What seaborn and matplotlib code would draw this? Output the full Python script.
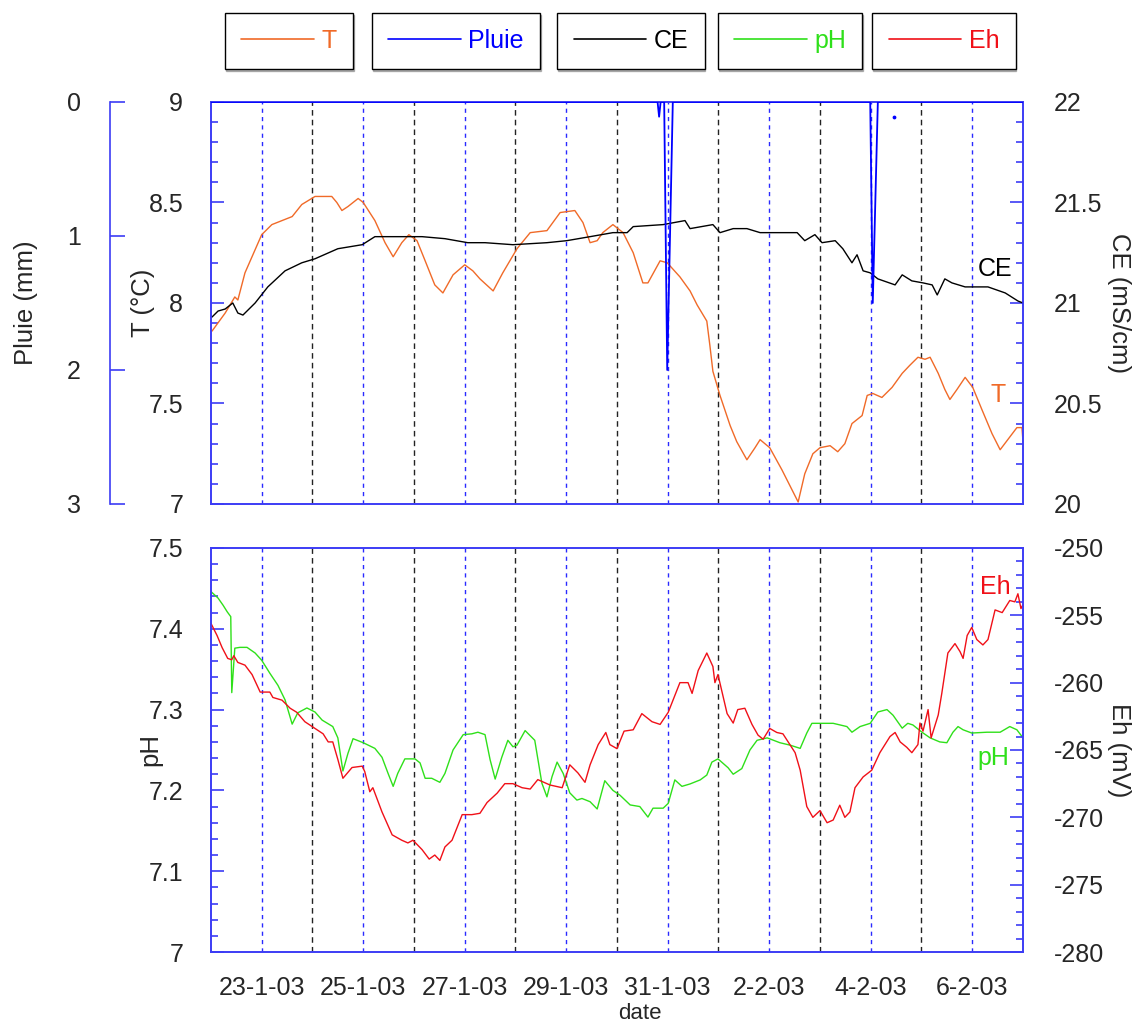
import numpy as np
import pandas as pd
import seaborn as sns
import matplotlib.pyplot as plt
from matplotlib.lines import Line2D
from matplotlib.ticker import MultipleLocator

sns.set_theme(style='white')
plt.rcParams['font.family'] = ['Liberation Sans', 'DejaVu Sans']

# temps en jours depuis le 22-1-03 0h
start = pd.Timestamp('2003-01-22')

t_T = [0.02, 0.28, 0.47, 0.53, 0.67, 1.00, 1.20, 1.40, 1.60, 1.79, 2.05, 2.38, 2.48, 2.58, 2.70, 2.90, 3.00,
       3.23, 3.43, 3.59, 3.76, 3.90, 4.06, 4.22, 4.41, 4.57, 4.77, 5.00, 5.16, 5.30, 5.56, 5.75, 6.03, 6.29,
       6.62, 6.88, 7.17, 7.33, 7.47, 7.61, 7.72, 7.92, 8.12, 8.32, 8.51, 8.61, 8.85, 8.99, 9.24, 9.44, 9.58,
       9.77, 9.83, 9.89, 10.03, 10.23, 10.36, 10.56, 10.72, 10.82, 11.01, 11.25, 11.57, 11.70, 11.86, 12.00,
       12.20, 12.35, 12.49, 12.63, 12.83, 12.93, 13.04, 13.22, 13.42, 13.62, 13.77, 13.93, 14.07, 14.17,
       14.33, 14.46, 14.56, 14.70, 14.86, 15.01, 15.19, 15.39, 15.55, 15.70, 15.88, 15.98, 16.00]
T = [7.86, 7.95, 8.03, 8.015, 8.15, 8.34, 8.39, 8.41, 8.43, 8.49, 8.53, 8.53, 8.50, 8.46, 8.48, 8.52, 8.50,
     8.41, 8.30, 8.23, 8.30, 8.34, 8.31, 8.21, 8.09, 8.05, 8.14, 8.19, 8.16, 8.12, 8.06, 8.15, 8.27, 8.35,
     8.36, 8.45, 8.46, 8.40, 8.30, 8.31, 8.35, 8.39, 8.35, 8.25, 8.10, 8.10, 8.21, 8.20, 8.13, 8.06, 7.99,
     7.91, 7.79, 7.66, 7.54, 7.39, 7.31, 7.22, 7.28, 7.32, 7.28, 7.17, 7.01, 7.15, 7.25, 7.28,
     7.29, 7.26, 7.30, 7.40, 7.44, 7.54, 7.55, 7.53, 7.58, 7.65, 7.69, 7.73, 7.72, 7.73,
     7.65, 7.57, 7.52, 7.57, 7.63, 7.58, 7.47, 7.35, 7.27, 7.32, 7.38, 7.38, 7.31]

t_CE = [0.02, 0.14, 0.28, 0.43, 0.53, 0.63, 0.87, 1.12, 1.46, 1.79, 2.05, 2.50, 2.98, 3.23, 3.68, 4.16, 4.61,
        5.06, 5.40, 5.95, 6.62, 7.01, 7.47, 7.92, 8.20, 8.32, 8.91, 9.34, 9.44, 9.89, 10.03, 10.29, 10.56,
        10.82, 11.05, 11.55, 11.70, 11.90, 12.04, 12.30, 12.45, 12.63, 12.73, 12.85, 12.99, 13.14, 13.48,
        13.62, 13.81, 14.03, 14.21, 14.31, 14.46, 14.60, 14.86, 15.31, 15.65, 15.90, 16.00]
CE = [20.93, 20.96, 20.97, 21.00, 20.95, 20.94, 21.00, 21.08, 21.16, 21.20, 21.22, 21.27, 21.29, 21.33, 21.33,
      21.33, 21.32, 21.30, 21.30, 21.29, 21.30, 21.31, 21.33, 21.35, 21.35, 21.38, 21.39, 21.41, 21.37, 21.39,
      21.35, 21.37, 21.37, 21.35, 21.35, 21.35, 21.31, 21.34, 21.30, 21.31, 21.27, 21.20, 21.24, 21.16, 21.15,
      21.12, 21.09, 21.14, 21.11, 21.10, 21.09, 21.04, 21.12, 21.10, 21.08, 21.08, 21.05, 21.01, 21.00]

t_pluie = [0.00, 8.80, 8.83, 8.86, 8.93, 8.99, 9.10, 12.99, 13.04, 13.14, 16.00]
pluie = [0, 0, 0.11, 0, 0, 2.0, 0, 0, 1.5, 0, 0]

t_pH = [0.00, 0.14, 0.24, 0.32, 0.39, 0.41, 0.47, 0.57, 0.71, 0.87, 1.00, 1.16, 1.32, 1.46, 1.60, 1.71, 1.89,
        2.05, 2.19, 2.40, 2.50, 2.60, 2.70, 2.80, 3.00, 3.23, 3.37, 3.49, 3.59, 3.68, 3.82, 4.02, 4.12, 4.22,
        4.35, 4.51, 4.61, 4.77, 4.97, 5.14, 5.26, 5.40, 5.50, 5.60, 5.73, 5.85, 5.95, 6.03, 6.19, 6.38, 6.52,
        6.62, 6.72, 6.82, 6.94, 7.07, 7.21, 7.31, 7.47, 7.61, 7.76, 7.92, 8.06, 8.26, 8.45, 8.61, 8.71, 8.91,
        9.01, 9.14, 9.28, 9.44, 9.64, 9.77, 9.87, 9.99, 10.19, 10.29, 10.46, 10.62, 10.76, 10.96, 11.21,
        11.41, 11.61, 11.74, 11.84, 12.00, 12.26, 12.53, 12.63, 12.79, 12.99, 13.14, 13.32, 13.44, 13.62,
        13.73, 13.83, 14.01, 14.17, 14.36, 14.50, 14.62, 14.72, 14.82, 14.99, 15.29, 15.55, 15.74, 15.88, 16.00]
pH = [7.446, 7.438, 7.429, 7.421, 7.415, 7.321, 7.376, 7.377, 7.377, 7.370, 7.361, 7.345, 7.330, 7.312, 7.282,
      7.296, 7.302, 7.297, 7.287, 7.279, 7.265, 7.224, 7.246, 7.264, 7.259, 7.252, 7.241, 7.221, 7.205, 7.221,
      7.239, 7.239, 7.234, 7.215, 7.215, 7.210, 7.221, 7.250, 7.269, 7.270, 7.272, 7.269, 7.238, 7.214, 7.241,
      7.262, 7.254, 7.256, 7.274, 7.262, 7.209, 7.192, 7.217, 7.235, 7.221, 7.197, 7.188, 7.190, 7.186, 7.177,
      7.212, 7.200, 7.194, 7.182, 7.180, 7.167, 7.178, 7.178, 7.184, 7.213, 7.205, 7.208, 7.213, 7.219, 7.235,
      7.239, 7.228, 7.220, 7.227, 7.250, 7.262, 7.265, 7.259, 7.256, 7.252, 7.271, 7.283, 7.283, 7.283, 7.279,
      7.272, 7.279, 7.283, 7.297, 7.300, 7.293, 7.277, 7.283, 7.281, 7.272, 7.265, 7.260, 7.259, 7.272, 7.279,
      7.275, 7.271, 7.272, 7.272, 7.279, 7.275, 7.265]

t_Eh = [0.00, 0.12, 0.22, 0.33, 0.41, 0.45, 0.53, 0.67, 0.81, 0.97, 1.16, 1.22, 1.40, 1.56, 1.69, 1.85, 2.05,
        2.21, 2.31, 2.40, 2.50, 2.60, 2.78, 2.98, 3.03, 3.13, 3.19, 3.37, 3.57, 3.76, 3.88, 3.98, 4.16, 4.30,
        4.41, 4.51, 4.61, 4.75, 4.95, 5.14, 5.30, 5.44, 5.64, 5.79, 5.95, 6.13, 6.29, 6.44, 6.68, 6.92, 7.07,
        7.23, 7.37, 7.47, 7.63, 7.78, 7.86, 8.00, 8.14, 8.32, 8.49, 8.69, 8.85, 9.01, 9.24, 9.40, 9.48, 9.60,
        9.77, 9.89, 9.93, 9.99, 10.17, 10.29, 10.38, 10.52, 10.66, 10.78, 10.88, 11.01, 11.15, 11.27, 11.51,
        11.61, 11.74, 11.86, 12.00, 12.14, 12.26, 12.39, 12.49, 12.59, 12.69, 12.85, 13.02, 13.18, 13.38,
        13.48, 13.58, 13.71, 13.81, 13.93, 13.97, 14.03, 14.13, 14.19, 14.33, 14.40, 14.52, 14.66, 14.76,
        14.82, 14.90, 14.99, 15.09, 15.21, 15.31, 15.45, 15.59, 15.74, 15.84, 15.90, 15.96, 16.00]
Eh = [-255.6, -256.5, -257.4, -258.2, -258.3, -258.0, -258.5, -258.7, -259.4, -260.7, -260.7, -261.1, -261.3,
      -261.9, -262.2, -262.9, -263.4, -263.8, -264.4, -264.4, -265.7, -267.1, -266.3, -266.2, -266.6, -268.1,
      -267.8, -269.6, -271.3, -271.7, -271.9, -271.7, -272.4, -273.1, -272.8, -273.2, -272.2, -271.7, -269.8,
      -269.8, -269.7, -268.9, -268.2, -267.5, -267.5, -267.8, -267.9, -267.2, -267.6, -267.8, -266.1, -266.7,
      -267.4, -266.1, -264.6, -263.7, -264.6, -264.9, -263.6, -263.5, -262.3, -262.9, -263.1, -262.2, -260.0,
      -260.0, -260.8, -259.1, -257.8, -258.8, -260.0, -259.4, -262.3, -263.0, -262.0, -261.9, -263.1, -263.9,
      -264.2, -263.4, -263.7, -263.8, -265.2, -266.5, -269.2, -270.0, -269.5, -270.4, -270.2, -269.1, -270.0,
      -269.6, -267.8, -267.0, -266.5, -265.2, -264.0, -263.7, -264.4, -264.8, -265.2, -264.6, -263.0, -263.6,
      -262.0, -264.1, -262.4, -260.8, -257.8, -257.1, -257.7, -258.2, -256.5, -255.9, -256.8, -257.2, -256.8,
      -254.6, -254.8, -253.9, -254.0, -253.4, -254.5, -254.2]

c_T = '#f06a28'
c_pluie = '#0000ff'
c_CE = 'black'
c_pH = '#2fe01a'
c_Eh = '#f01018'
c_axe = '#3c3cf5'

fs_tick = 18
fs_lab = 18.5
fs_txt = 18


def dates(days):
    return start + pd.to_timedelta(np.asarray(days), unit='D')


fig = plt.figure(figsize=(11.33, 10.25), dpi=100)
ax_T = fig.add_axes([0.1862, 0.5083, 0.7167, 0.3922])
ax_CE = ax_T.twinx()
ax_R = ax_T.twinx()
ax_pH = fig.add_axes([0.1862, 0.0712, 0.7167, 0.3942])
ax_Eh = ax_pH.twinx()

# lignes verticales journalieres
jours = pd.date_range('2003-01-23', '2003-02-06', freq='D')
for ax in (ax_T, ax_pH):
    for i, d in enumerate(jours):
        if i % 2 == 0:
            ax.axvline(d, color='#2a2aff', lw=1, ls=(0, (3, 3)), zorder=0)
        else:
            ax.axvline(d, color='#222222', lw=1, ls=(0, (4, 3)), zorder=0)

sns.lineplot(x=dates(t_T), y=T, ax=ax_T, color=c_T, lw=1, estimator=None, sort=False)
sns.lineplot(x=dates(t_CE), y=CE, ax=ax_CE, color=c_CE, lw=1, estimator=None, sort=False)
sns.lineplot(x=dates(t_pluie), y=pluie, ax=ax_R, color=c_pluie, lw=1.3, estimator=None, sort=False)
ax_R.scatter(dates([13.46]), [0.11], s=3, color=c_pluie)
sns.lineplot(x=dates(t_pH), y=pH, ax=ax_pH, color=c_pH, lw=1, estimator=None, sort=False)
sns.lineplot(x=dates(t_Eh), y=Eh, ax=ax_Eh, color=c_Eh, lw=1, estimator=None, sort=False)

xmin, xmax = start, start + pd.Timedelta(days=16)
for ax in (ax_T, ax_CE, ax_R, ax_pH, ax_Eh):
    ax.set_xlim(xmin, xmax)
    for s in ax.spines.values():
        s.set_color(c_axe)
        s.set_linewidth(1.2)

ax_T.set_ylim(7, 9)
ax_CE.set_ylim(20, 22)
ax_R.set_ylim(3, 0)
ax_pH.set_ylim(7, 7.5)
ax_Eh.set_ylim(-280, -250)

ax_T.yaxis.set_major_locator(MultipleLocator(0.5))
ax_T.yaxis.set_minor_locator(MultipleLocator(0.1))
ax_CE.yaxis.set_major_locator(MultipleLocator(0.5))
ax_CE.yaxis.set_minor_locator(MultipleLocator(0.1))
ax_R.yaxis.set_major_locator(MultipleLocator(1))
ax_pH.yaxis.set_major_locator(MultipleLocator(0.1))
ax_pH.yaxis.set_minor_locator(MultipleLocator(0.02))
ax_Eh.yaxis.set_major_locator(MultipleLocator(5))
ax_Eh.yaxis.set_minor_locator(MultipleLocator(1))

fmt = lambda v, p: f'{v:g}'
for ax in (ax_T, ax_CE, ax_R, ax_pH, ax_Eh):
    ax.yaxis.set_major_formatter(fmt)

for ax in (ax_T, ax_pH):
    ax.tick_params(axis='y', which='both', direction='in', left=True, right=False,
                   labelleft=True, labelright=False, color=c_axe, labelsize=fs_tick, pad=20)
    ax.tick_params(axis='y', which='major', length=9.5, width=1.2)
    ax.tick_params(axis='y', which='minor', length=5, width=1.2)
for ax in (ax_CE, ax_Eh):
    ax.tick_params(axis='y', which='both', direction='in', left=False, right=True,
                   labelleft=False, labelright=True, color=c_axe, labelsize=fs_tick, pad=22)
    ax.tick_params(axis='y', which='major', length=9.5, width=1.2)
    ax.tick_params(axis='y', which='minor', length=5, width=1.2)

ax_R.yaxis.set_ticks_position('left')
ax_R.yaxis.set_label_position('left')
ax_R.spines['left'].set_position(('axes', -0.1244))
ax_R.spines['left'].set_visible(True)
for s in ('right', 'top', 'bottom'):
    ax_R.spines[s].set_visible(False)
ax_R.tick_params(axis='y', which='major', direction='in', left=True, right=False, labelleft=True,
                 labelright=False, color=c_axe, labelsize=fs_tick, pad=21, length=11, width=1.2)

ax_T.tick_params(axis='x', which='both', length=0, labelbottom=False)
ax_pH.set_xticks(jours[::2])
ax_pH.set_xticklabels([f'{d.day}-{d.month}-{d:%y}' for d in jours[::2]])
ax_pH.tick_params(axis='x', which='both', length=0, labelsize=fs_tick, pad=17)

ax_T.set_xlabel('')
ax_T.set_ylabel('T (°C)', fontsize=fs_lab, va='center', ha='center')
ax_T.yaxis.set_label_coords(-0.0831, 0.5)
ax_R.set_xlabel('')
ax_R.set_ylabel('Pluie (mm)', fontsize=fs_lab, va='center', ha='center')
ax_R.yaxis.set_label_coords(-0.2278, 0.5)
ax_CE.set_ylabel('CE (mS/cm)', fontsize=fs_lab, rotation=270, va='center', ha='center')
ax_CE.yaxis.set_label_coords(1.118, 0.5)
ax_pH.set_ylabel('pH', fontsize=fs_lab, va='center', ha='center')
ax_pH.yaxis.set_label_coords(-0.0751, 0.5)
ax_Eh.set_ylabel('Eh (mV)', fontsize=fs_lab, rotation=270, va='center', ha='center')
ax_Eh.yaxis.set_label_coords(1.118, 0.5)
ax_pH.set_xlabel('date', fontsize=16, va='center')
ax_pH.xaxis.set_label_coords(0.528, -0.151)

# noms des courbes
ax_CE.text(dates([15.45])[0], 21.17, 'CE', color=c_CE, fontsize=fs_txt, ha='center', va='center')
ax_T.text(dates([15.51])[0], 7.54, 'T', color=c_T, fontsize=fs_txt, ha='center', va='center')
ax_Eh.text(dates([15.45])[0], -252.9, 'Eh', color=c_Eh, fontsize=fs_txt, ha='center', va='center')
ax_pH.text(dates([15.41])[0], 7.24, 'pH', color=c_pH, fontsize=fs_txt, ha='center', va='center')

# legendes separees en haut
noms = ['T', 'Pluie', 'CE', 'pH', 'Eh']
couleurs = [c_T, c_pluie, c_CE, c_pH, c_Eh]
centres = [289, 456, 631, 790, 944]
for nom, c, cx in zip(noms, couleurs, centres):
    leg = fig.legend(handles=[Line2D([], [], color=c, lw=1.2)], labels=[nom], loc='center',
                     bbox_to_anchor=(cx / 1133, 1 - 41 / 1025), fontsize=18, labelcolor=c,
                     frameon=True, fancybox=False, edgecolor='black', framealpha=1,
                     handlelength=2.9, handletextpad=0.3, borderpad=0.65, borderaxespad=0,
                     shadow={'ox': 0.6, 'oy': -1.5, 'color': '0.45'})
    leg.get_frame().set_linewidth(1)

fig.savefig('out.png', dpi=100)
